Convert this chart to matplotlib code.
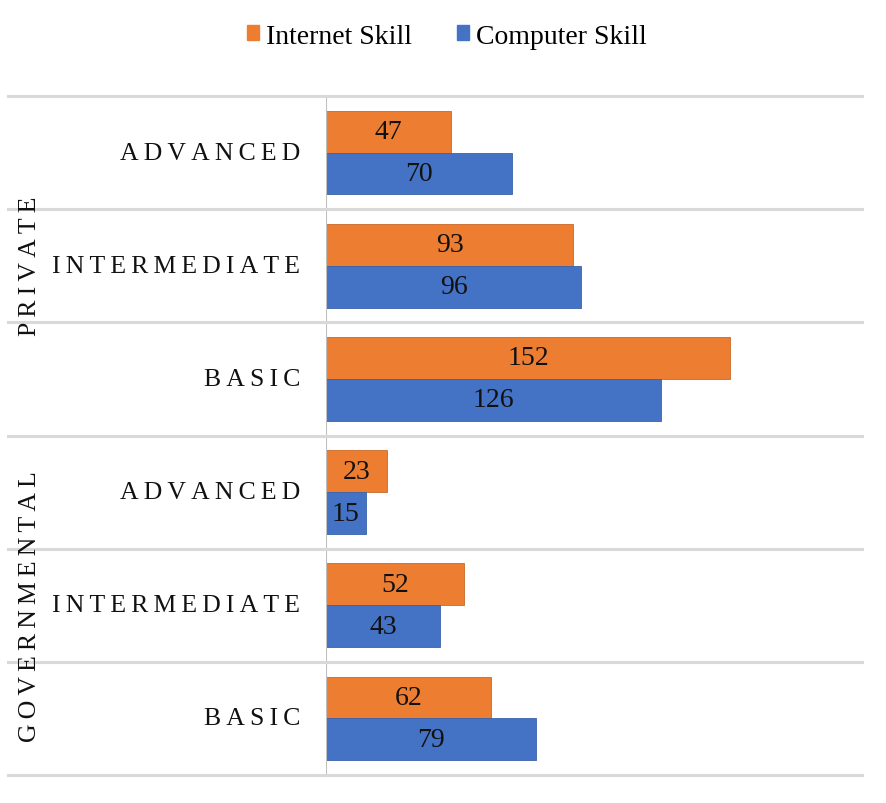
import matplotlib
matplotlib.use("Agg")
import matplotlib.pyplot as plt
from matplotlib.lines import Line2D

plt.rcParams['font.family'] = ['Liberation Serif', 'DejaVu Serif']

groups = ["PRIVATE", "GOVERNMENTAL"]
levels = ["ADVANCED", "INTERMEDIATE", "BASIC"]
internet = [47, 93, 152, 23, 52, 62]
computer = [70, 96, 126, 15, 43, 79]
series_names = ["Internet Skill", "Computer Skill"]
colors = ["#ED7D31", "#4472C4"]

W, H = 886, 804
fig = plt.figure(figsize=(W / 100, H / 100), dpi=100)
L, R, T, B = 326, 862, 97, 776
ax = fig.add_axes([L / W, 1 - B / H, (R - L) / W, (B - T) / H])

n = len(internet)
ypos = list(range(n))
h = 0.37
ax.barh([y - h / 2 for y in ypos], internet, height=h, color=colors[0], edgecolor="#c9692a", linewidth=0.6)
ax.barh([y + h / 2 for y in ypos], computer, height=h, color=colors[1], edgecolor="#3a62a8", linewidth=0.6)

for y, v in zip(ypos, internet):
    ax.text(v / 2, y - h / 2, str(v), ha="center", va="center", fontsize=20, color="#111111")
for y, v in zip(ypos, computer):
    ax.text(v / 2, y + h / 2, str(v), ha="center", va="center", fontsize=20, color="#111111")

ax.set_xlim(0, 201.7)
ax.set_ylim(n - 0.5, -0.5)
ax.set_xticks([])
ax.set_yticks([])
for s in ax.spines.values():
    s.set_visible(False)
ax.axvline(0, color="#BFBFBF", linewidth=1.5)

def spaced(s, sep="\u2009"):
    return sep.join(s)

# separators (category boundaries), extend left across label area
for k in range(n + 1):
    yy = T + k * (B - T) / n
    fig.add_artist(Line2D([8 / W, R / W], [1 - yy / H, 1 - yy / H], color="#D9D9D9", linewidth=2.2))

labels = levels * len(groups)
for y, lab in zip(ypos, labels):
    ax.text(-26 / ((R - L) / 201.7), y, spaced(lab), ha="right", va="center", fontsize=18.5, color="#111111")

for gi, g in enumerate(groups):
    yc = T + (gi * 3 + 1.5) * (B - T) / n
    fig.text(30 / W, 1 - yc / H, spaced(g), rotation=90, ha="center", va="center", fontsize=18.5, color="#111111")

handles = [plt.Rectangle((0, 0), 1, 1, color=c) for c in colors]
fig.legend(handles, series_names, loc="center", bbox_to_anchor=(447 / W, 1 - 37 / H), ncol=2, frameon=False,
           fontsize=20, handlelength=0.45, handleheight=0.45, handletextpad=0.25, columnspacing=1.6)

fig.savefig("out.png", dpi=100, facecolor="white")
